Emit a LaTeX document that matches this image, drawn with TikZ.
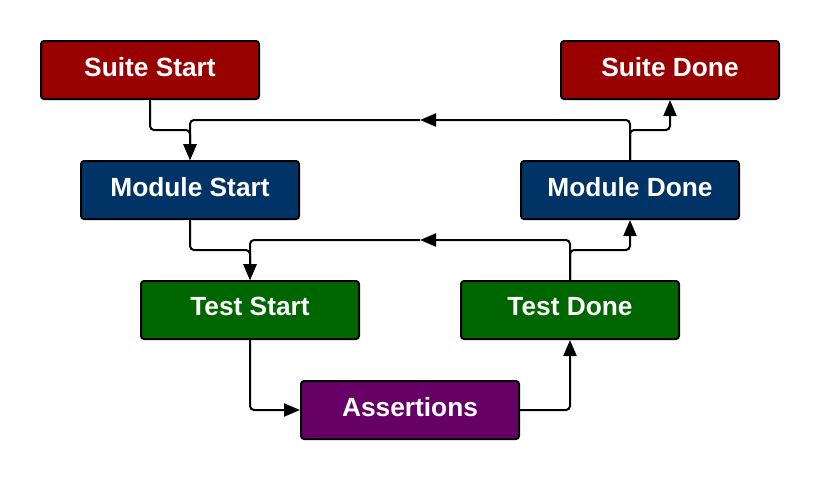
\documentclass[tikz,border=0pt]{standalone}
\usepackage{fontspec}
\setmainfont{Liberation Sans}
\usetikzlibrary{arrows.meta}
\definecolor{cred}{HTML}{990000}
\definecolor{cblue}{HTML}{003366}
\definecolor{cgreen}{HTML}{006600}
\definecolor{cpurple}{HTML}{660066}
\tikzset{
  box/.style={draw=black, line width=2pt, rounded corners=3pt, minimum width=218pt, minimum height=58pt, inner sep=0pt, text depth=7pt, text=white, font=\fontsize{26.3}{30}\selectfont\bfseries},
  conn/.style={draw=black, line width=2pt, rounded corners=4pt},
  arr/.style={conn, -{Triangle[length=16pt,width=13pt]}}
}
\begin{document}
\begin{tikzpicture}[x=1pt,y=-1pt]
\path[use as bounding box] (0,0) rectangle (820,480);
\node[box, fill=cred]    (ss) at (150,70)  {Suite Start};
\node[box, fill=cred]    (sd) at (670,70)  {Suite Done};
\node[box, fill=cblue]   (ms) at (190,190) {Module Start};
\node[box, fill=cblue]   (md) at (630,190) {Module Done};
\node[box, fill=cgreen]  (ts) at (250,310) {Test Start};
\node[box, fill=cgreen]  (td) at (570,310) {Test Done};
\node[box, fill=cpurple] (as) at (410,410) {Assertions};
\coordinate (m1) at (420,120);
\coordinate (m2) at (420,240);
% top level
\draw[arr] (ss.south) -- ++(0,30) -| (ms.north);
\draw[arr] (md.north) |- (m1);
\draw[arr] (m1) -| (ms.north);
\draw[arr] (md.north) -- ++(0,-30) -| (sd.south);
% middle level
\draw[arr] (ms.south) -- ++(0,30) -| (ts.north);
\draw[arr] (td.north) |- (m2);
\draw[arr] (m2) -| (ts.north);
\draw[arr] (td.north) -- ++(0,-30) -| (md.south);
% bottom
\draw[arr] (ts.south) |- (as.west);
\draw[arr] (as.east) -| (td.south);
\end{tikzpicture}
\end{document}
